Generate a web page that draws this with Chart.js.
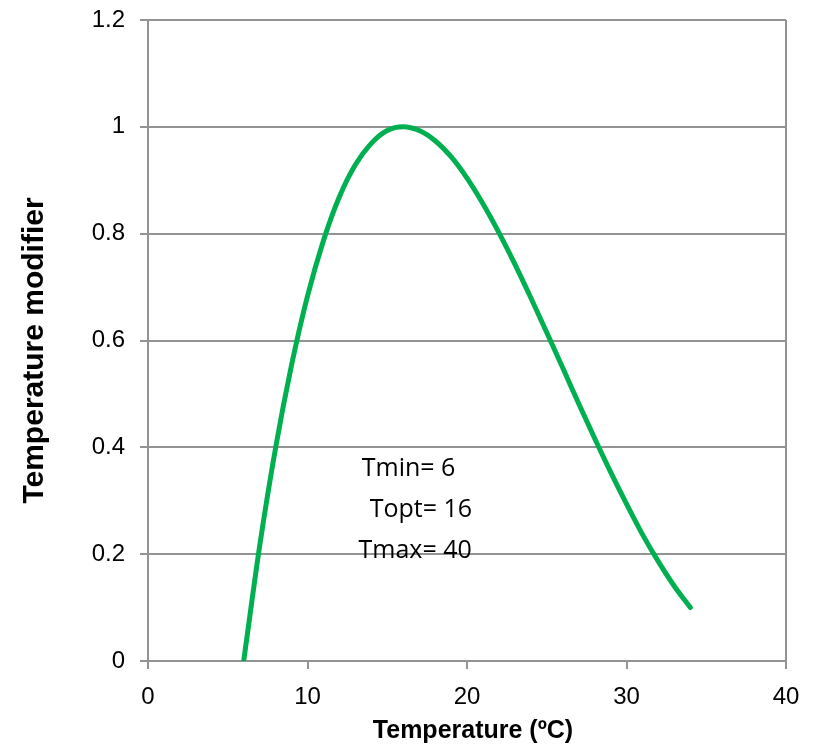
<!DOCTYPE html>
<html>
<head>
<meta charset="utf-8">
<script src="https://cdn.jsdelivr.net/npm/chart.js@4/dist/chart.umd.min.js"></script>
<style>
html,body{margin:0;padding:0;background:#fff;}
#wrap{width:821px;height:744px;position:relative;}
</style>
</head>
<body>
<div id="wrap"><canvas id="c" width="821" height="744"></canvas></div>
<script>
const temperatures = [6,7,8,9,10,11,12,13,14,15,16,17,18,19,20,21,22,23,24,25,26,27,28,29,30,31,32,33,34];
const modifier = [0,0.215,0.399,0.554,0.683,0.787,0.869,0.929,0.969,0.993,1.0,0.993,0.974,0.944,0.904,0.856,0.802,0.743,0.680,0.615,0.549,0.482,0.417,0.354,0.294,0.237,0.186,0.140,0.100];
const xTicks = [0,10,20,30,40];
const yTicks = [0,0.2,0.4,0.6,0.8,1,1.2];
const xTitle = 'Temperature (ºC)';
const yTitle = 'Temperature modifier';
const notes = [
  {text:'Tmin= 6', x:13.4, y:0.36},
  {text:'Topt= 16', x:13.9, y:0.282},
  {text:'Tmax= 40', x:13.2, y:0.207}
];
const GRAY = '#939393';

const notePlugin = {
  id:'notes',
  afterDatasetsDraw(chart){
    const ctx = chart.ctx, xs = chart.scales.x, ys = chart.scales.y, ca = chart.chartArea;
    ctx.save();
    ctx.font = '25px "Open Sans", Lato, sans-serif';
    ctx.fillStyle = '#000';
    ctx.textBaseline = 'middle';
    ctx.textAlign = 'left';
    notes.forEach(n => ctx.fillText(n.text, xs.getPixelForValue(n.x), ys.getPixelForValue(n.y)));
    // axis titles
    ctx.textAlign = 'center';
    ctx.textBaseline = 'alphabetic';
    ctx.font = 'bold 25px "Liberation Sans", Arial, sans-serif';
    ctx.fillText(xTitle, (ca.left + ca.right) / 2 + 6, 738);
    ctx.translate(43, (ca.top + ca.bottom) / 2 + 10);
    ctx.rotate(-Math.PI / 2);
    ctx.font = 'bold 30px "Liberation Sans", Arial, sans-serif';
    ctx.fillText(yTitle, 0, 0);
    ctx.restore();
  }
};

new Chart(document.getElementById('c'), {
  type:'line',
  data:{
    datasets:[{
      data: temperatures.map((t,i)=>({x:t,y:modifier[i]})),
      borderColor:'#00b050',
      borderWidth:5,
      borderCapStyle:'round',
      pointRadius:0,
      cubicInterpolationMode:'monotone',
      fill:false
    }]
  },
  options:{
    responsive:false,
    animation:false,
    devicePixelRatio:1,
    layout:{padding:{left:0,right:35,top:20,bottom:0}},
    plugins:{legend:{display:false},tooltip:{enabled:false}},
    scales:{
      x:{
        type:'linear', min:0, max:40,
        afterBuildTicks(s){ s.ticks = xTicks.map(v=>({value:v})); },
        afterFit(s){ s.height = 83; s.paddingLeft = 0; s.paddingRight = 0; },
        border:{display:true,color:GRAY,width:2},
        grid:{
          drawOnChartArea:true,
          color:(c)=> (c.tick && c.tick.value===40) ? GRAY : 'rgba(0,0,0,0)',
          lineWidth:2,
          tickColor:GRAY,
          tickLength:8,
          tickWidth:2
        },
        ticks:{color:'#000',font:{family:'"Liberation Sans", Arial, sans-serif',size:24},padding:14,maxRotation:0},
        title:{display:false}
      },
      y:{
        type:'linear', min:0, max:1.2,
        afterBuildTicks(s){ s.ticks = yTicks.map(v=>({value:v})); },
        afterFit(s){ s.width = 148; s.paddingTop = 0; s.paddingBottom = 0; },
        border:{display:true,color:GRAY,width:2},
        grid:{color:GRAY,lineWidth:2,tickColor:GRAY,tickLength:8,tickWidth:2},
        ticks:{color:'#000',font:{family:'"Liberation Sans", Arial, sans-serif',size:24},padding:15,
          callback:(v)=> String(Math.round(v*10)/10)},
        title:{display:false}
      }
    }
  },
  plugins:[notePlugin]
});
</script>
</body>
</html>
